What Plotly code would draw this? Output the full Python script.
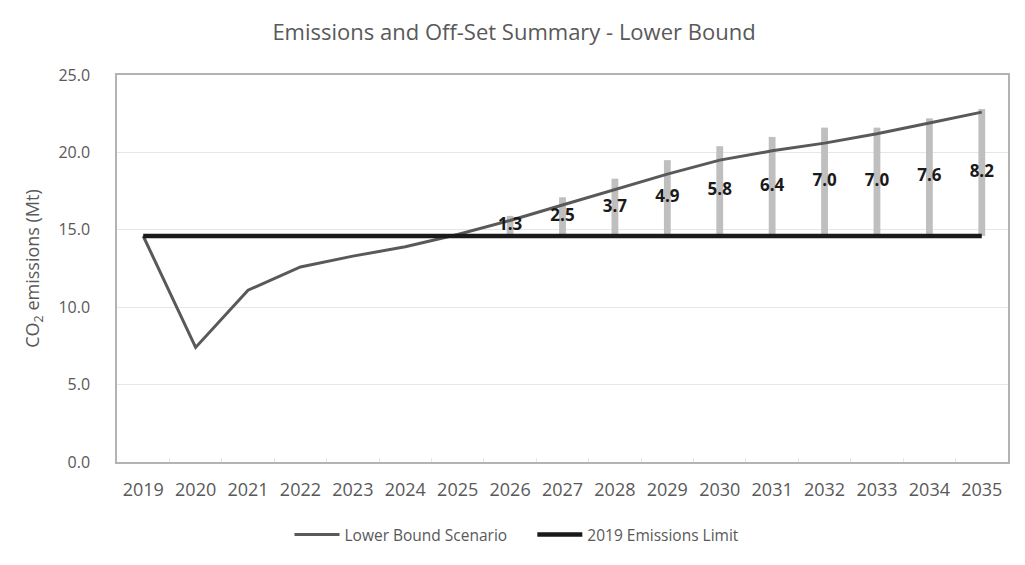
import plotly.graph_objects as go

# Emissions summary, lower bound scenario (Mt CO2)
years = [str(y) for y in range(2019, 2036)]
lower_bound = [14.6, 7.4, 11.1, 12.6, 13.3, 13.9, 14.7, 15.6, 16.6, 17.6,
               18.6, 19.5, 20.1, 20.6, 21.2, 21.9, 22.6]
limit_2019 = [14.6] * len(years)

offset_years = [str(y) for y in range(2026, 2036)]
offsets = [1.3, 2.5, 3.7, 4.9, 5.8, 6.4, 7.0, 7.0, 7.6, 8.2]

FONT = "Open Sans"
GREY_TXT = "#595959"
NBSP = "\u00a0"

fig = go.Figure()

# off-set bars sit on top of the 2019 limit
fig.add_trace(
    go.Bar(
        x=offset_years,
        y=offsets,
        base=[limit_2019[0]] * len(offsets),
        width=0.13,
        marker=dict(color="#bfbfbf", line=dict(width=0)),
        showlegend=False,
        hoverinfo="skip",
    )
)
fig.add_trace(
    go.Scatter(
        x=years,
        y=lower_bound,
        mode="lines",
        name="Lower Bound Scenario" + NBSP * 5,
        line=dict(color="#595959", width=3),
    )
)
fig.add_trace(
    go.Scatter(
        x=years,
        y=limit_2019,
        mode="lines",
        name="2019 Emissions Limit",
        line=dict(color="#1a1a1a", width=4.5),
    )
)
# data labels in the middle of each bar
fig.add_trace(
    go.Scatter(
        x=offset_years,
        y=[limit_2019[0] + v / 2 for v in offsets],
        mode="text",
        text=[f"{v:.1f}" for v in offsets],
        textfont=dict(family=FONT, size=17, color="#1a1a1a", weight="bold"),
        showlegend=False,
        hoverinfo="skip",
    )
)

fig.update_layout(
    width=1025,
    height=565,
    margin=dict(l=109, r=25, t=67, b=111, autoexpand=False),
    paper_bgcolor="white",
    plot_bgcolor="white",
    font=dict(family=FONT, color=GREY_TXT),
    title=dict(
        text="Emissions and Off-Set Summary - Lower Bound",
        x=506 / 1025,
        xanchor="center",
        y=1 - 24 / 565,
        yanchor="middle",
        font=dict(family=FONT, size=22, color=GREY_TXT),
    ),
    legend=dict(
        orientation="h",
        xref="container",
        yref="container",
        x=509 / 1025,
        xanchor="center",
        y=1 - 527 / 565,
        yanchor="middle",
        font=dict(family=FONT, size=15.5, color=GREY_TXT),
        itemwidth=45,
        tracegroupgap=0,
    ),
    barmode="overlay",
)
fig.update_xaxes(
    type="category",
    categoryorder="array",
    categoryarray=years,
    range=[-0.5, len(years) - 0.5],
    tickangle=0,
    tickfont=dict(family=FONT, size=18, color=GREY_TXT),
    showgrid=False,
    showline=True,
    mirror=True,
    linecolor="#b3b3b3",
    linewidth=1.5,
    ticks="inside",
    tickson="boundaries",
    ticklen=4,
    tickcolor="#e6e6e6",
    ticklabelstandoff=11,
)
fig.update_yaxes(
    range=[0, 25],
    dtick=5,
    tickformat=".1f",
    tickfont=dict(family=FONT, size=16, color=GREY_TXT),
    title=dict(text="CO<sub>2</sub> emissions (Mt)",
               font=dict(family=FONT, size=18, color=GREY_TXT), standoff=14),
    showgrid=True,
    gridcolor="#e6e6e6",
    zeroline=False,
    showline=True,
    mirror=True,
    linecolor="#b3b3b3",
    linewidth=1.5,
    ticklabelstandoff=22,
)

fig.write_html("out.html")
